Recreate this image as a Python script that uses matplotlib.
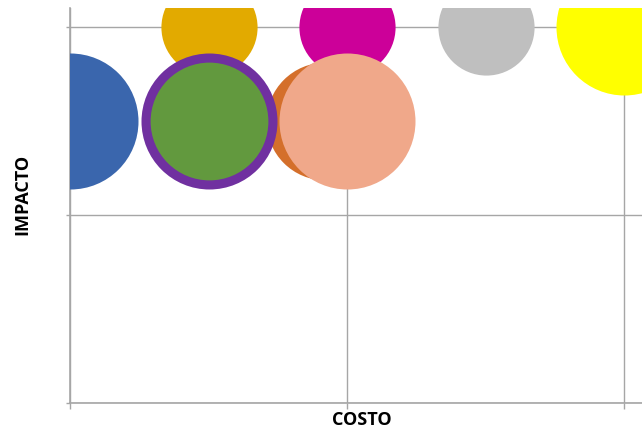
import matplotlib
matplotlib.use("Agg")
import matplotlib.pyplot as plt

# Data (COSTO, IMPACTO, bubble size)
names = ["A", "B", "C", "D", "E", "F", "G", "H", "I"]
costo = [1.0, 1.5, 2.0, 0.5, 0.92, 1.0, 0.0, 0.5, 0.5]
impacto = [2.0, 2.0, 2.0, 2.0, 1.5, 1.5, 1.5, 1.5, 1.5]
size = [2, 2, 4, 2, 3, 4, 4, 4, 3]
colors = ["#cc0099", "#bfbfbf", "#ffff00", "#e2aa00", "#d46f2b",
          "#f0a88a", "#3a66ad", "#7030a0", "#62993e"]

xticks = [0, 1, 2]
yticks = [0, 1, 2]

W, H = 642, 433
fig = plt.figure(figsize=(W / 100, H / 100), dpi=100)
left, right, bottom, top = 70, 642, 403, 8
ax = fig.add_axes([left / W, (H - bottom) / H, (right - left) / W, (bottom - top) / H])

x_px_per_unit = (624 - 70) / 2
y_px_per_unit = (403 - 27) / 2
ax.set_xlim(0, 2 + (right - 624) / x_px_per_unit)
ax.set_ylim(0, 2 + (27 - top) / y_px_per_unit)

# bubble area scale: size 4 -> radius 68 px
k = (2 * 68 * 72 / 100) ** 2 / 4
for xi, yi, si, ci in zip(costo, impacto, size, colors):
    ax.scatter([xi], [yi], s=si * k, color=ci, linewidths=0, zorder=3)

ax.set_xticks(xticks)
ax.set_yticks(yticks)
ax.set_xticklabels([])
ax.set_yticklabels([])
ax.grid(True, color="#a6a6a6", linewidth=1.0, zorder=0)
ax.tick_params(axis="x", direction="out", length=4, width=1, color="#a6a6a6")
ax.tick_params(axis="y", direction="out", length=3, width=1, color="#a6a6a6")
for s in ["top", "right"]:
    ax.spines[s].set_visible(False)
for s in ["left", "bottom"]:
    ax.spines[s].set_color("#a6a6a6")
    ax.spines[s].set_linewidth(1.2)
    ax.spines[s].set_zorder(1)
ax.set_axisbelow(True)

fig.text(362 / W, 1 - 420 / H, "COSTO", ha="center", va="center",
         fontsize=13, fontweight="bold", family="Open Sans")
fig.text(22 / W, 1 - 194 / H, "IMPACTO", ha="center", va="center",
         rotation=90, fontsize=13, fontweight="bold", family="Open Sans")

fig.savefig("out.png", dpi=100)
